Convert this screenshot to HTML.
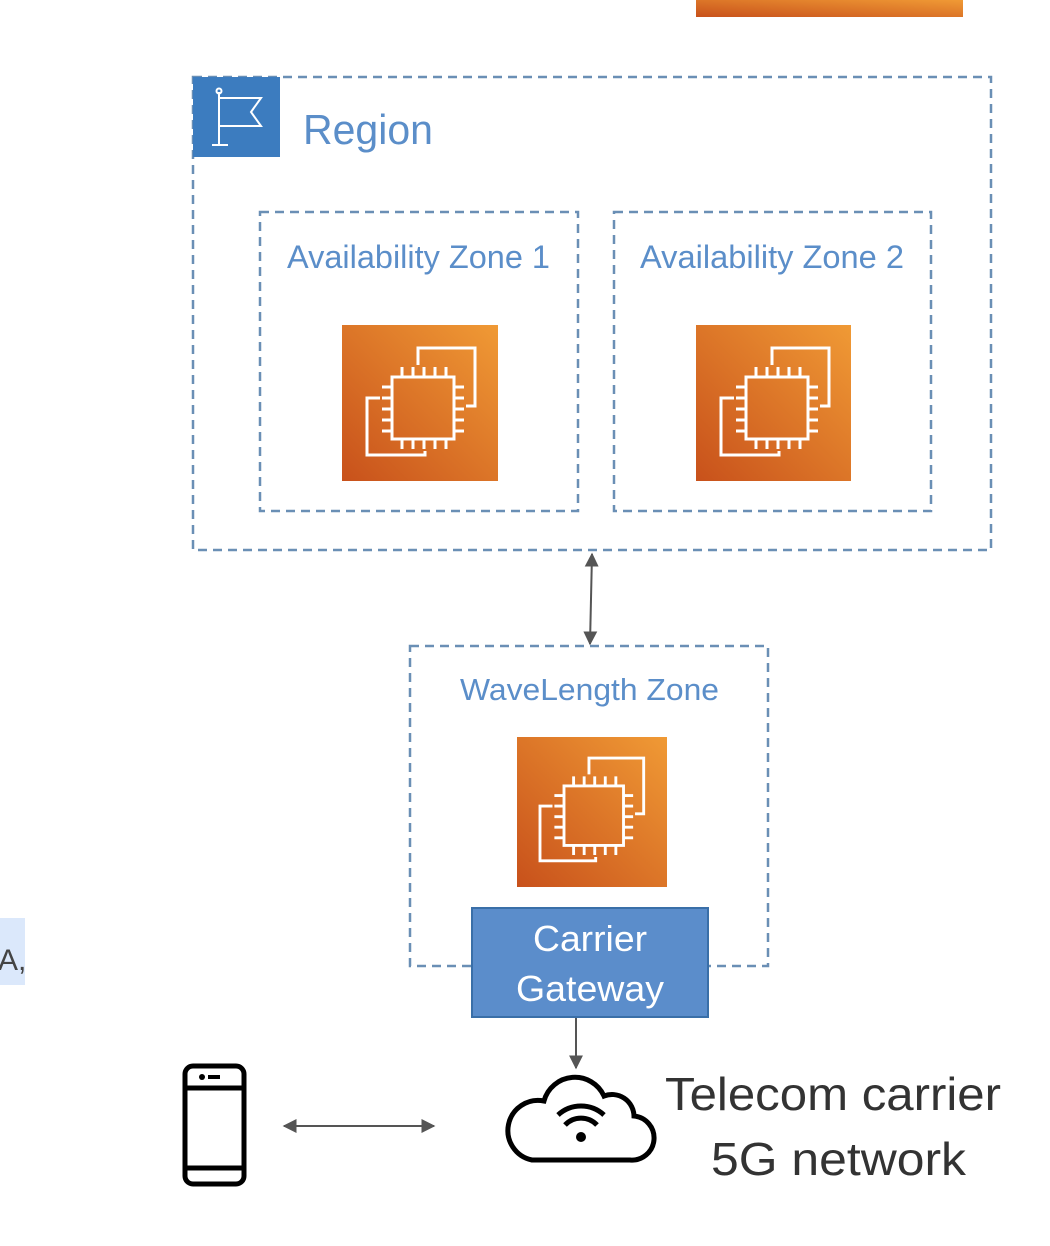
<!DOCTYPE html>
<html><head><meta charset="utf-8"><style>body{margin:0;background:#fff}svg{display:block}text{font-family:"Liberation Sans",sans-serif}</style></head>
<body>
<svg width="1050" height="1246" viewBox="0 0 1050 1246" xmlns="http://www.w3.org/2000/svg">
<defs>
<linearGradient id="og" x1="0" y1="1" x2="1" y2="0"><stop offset="0" stop-color="#c8511b"/><stop offset="1" stop-color="#f09a35"/></linearGradient>
<g id="ec2" fill="none" stroke="#fff" stroke-width="3">
<rect x="50" y="52" width="62" height="62"/>
<path d="M76 40 V23 H133 V81 H124"/><path d="M38 73 H25 V130 H83 V126"/>
<path d="M60 42v10M71 42v10M82 42v10M93 42v10M104 42v10M60 114v10M71 114v10M82 114v10M93 114v10M104 114v10M40 62h10M40 73h10M40 84h10M40 95h10M40 106h10M112 62h10M112 73h10M112 84h10M112 95h10M112 106h10"/>
</g>
<marker id="ah" viewBox="0 0 10 10" refX="9" refY="5" markerWidth="7" markerHeight="7" orient="auto-start-reverse"><path d="M0 0L10 5L0 10z" fill="#555"/></marker>
</defs>
<rect x="696" y="0" width="267" height="17" fill="url(#og)"/>
<rect x="0" y="918" width="25" height="67" fill="#dbe8fb"/>
<text x="-2" y="970" font-size="30" fill="#444">A,</text>
<g fill="none" stroke="#6a8fb5" stroke-width="2.5" stroke-dasharray="9,6">
<rect x="193" y="77" width="798" height="473"/>
<rect x="260" y="212" width="318" height="299"/>
<rect x="614" y="212" width="317" height="299"/>
<rect x="410" y="646" width="358" height="320"/>
</g>
<rect x="193" y="77" width="87" height="80" fill="#3c7cbf"/>
<g stroke="#fff" stroke-width="2" fill="none"><path d="M219 92V145M212 145h16M219 98h42l-10 14l10 14h-42"/><circle cx="219" cy="91" r="2.5"/></g>
<text x="303" y="144" font-size="42" fill="#5b8ec9" textLength="130" lengthAdjust="spacingAndGlyphs">Region</text>
<text x="287" y="268" font-size="32" fill="#5b8ec9" textLength="263" lengthAdjust="spacingAndGlyphs">Availability Zone 1</text>
<text x="640" y="268" font-size="32" fill="#5b8ec9" textLength="264" lengthAdjust="spacingAndGlyphs">Availability Zone 2</text>
<text x="460" y="700" font-size="31" fill="#5b8ec9" textLength="259" lengthAdjust="spacingAndGlyphs">WaveLength Zone</text>
<rect x="342" y="325" width="156" height="156" fill="url(#og)"/><use href="#ec2" transform="translate(342,325)"/>
<rect x="696" y="325" width="155" height="156" fill="url(#og)"/><use href="#ec2" transform="translate(696,325)"/>
<rect x="517" y="737" width="150" height="150" fill="url(#og)"/><use href="#ec2" transform="translate(516,736) scale(0.96)"/>
<line x1="592" y1="554" x2="590" y2="644" stroke="#555" stroke-width="2" marker-start="url(#ah)" marker-end="url(#ah)"/>
<rect x="472" y="908" width="236" height="109" fill="#5b8dcb" stroke="#3a6fa8" stroke-width="2"/>
<text x="590" y="951" font-size="36" fill="#fff" text-anchor="middle" textLength="114" lengthAdjust="spacingAndGlyphs">Carrier</text>
<text x="590" y="1001" font-size="36" fill="#fff" text-anchor="middle" textLength="148" lengthAdjust="spacingAndGlyphs">Gateway</text>
<line x1="576" y1="1018" x2="576" y2="1068" stroke="#555" stroke-width="2" marker-end="url(#ah)"/>
<line x1="284" y1="1126" x2="434" y2="1126" stroke="#555" stroke-width="2" marker-start="url(#ah)" marker-end="url(#ah)"/>
<g fill="none" stroke="#000" stroke-width="5">
<rect x="185" y="1066" width="59" height="118" rx="8"/><path d="M185 1088h59M185 1168h59"/>
<path d="M532 1160 H630 a22 22 0 0 0 4 -44 a22 22 0 0 0 -30 -20 a32 32 0 0 0 -60 5 a26 26 0 0 0 -12 59 z" stroke-width="5"/>
<path d="M558 1115 a34 34 0 0 1 46 0M565 1125 a22 22 0 0 1 32 0"/>
</g>
<circle cx="202" cy="1077" r="3" fill="#000"/><rect x="208" y="1075" width="12" height="4" fill="#000"/>
<circle cx="581" cy="1137" r="5" fill="#000"/>
<text x="665" y="1110" font-size="46" fill="#333" textLength="336" lengthAdjust="spacingAndGlyphs">Telecom carrier</text>
<text x="711" y="1175" font-size="46" fill="#333" textLength="255" lengthAdjust="spacingAndGlyphs">5G network</text>
</svg>
</body></html>
